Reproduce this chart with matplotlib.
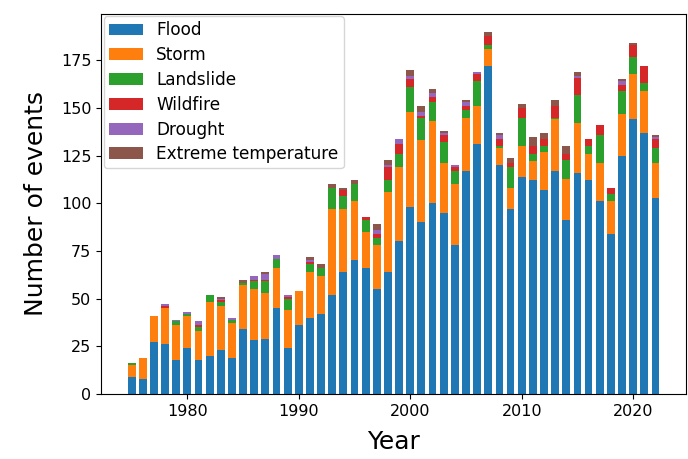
import numpy as np
import matplotlib.pyplot as plt

years = np.arange(1975, 2023)

flood = [9, 8, 27, 26, 18, 24, 18, 20, 23, 19, 34, 28, 29, 45, 24, 36,
         40, 42, 52, 64, 70, 66, 55, 64, 80, 98, 90, 100, 95, 78, 117, 131,
         172, 120, 97, 114, 112, 107, 117, 91, 116, 112, 101, 84, 125, 144, 137, 103]
storm = [6, 11, 14, 19, 18, 17, 15, 28, 23, 18, 23, 27, 24, 21, 20, 18,
         24, 20, 45, 33, 31, 19, 23, 42, 39, 50, 43, 43, 26, 32, 28, 20,
         9, 9, 11, 16, 10, 20, 27, 22, 26, 14, 20, 17, 22, 24, 22, 18]
landslide = [1, 0, 0, 0, 2, 1, 2, 4, 2, 2, 1, 4, 6, 5, 6, 0,
             4, 4, 11, 7, 9, 6, 4, 6, 7, 13, 12, 10, 11, 7, 4, 13,
             2, 1, 11, 15, 4, 3, 1, 10, 15, 4, 15, 4, 12, 9, 4, 8]
wildfire = [0, 0, 0, 1, 0, 0, 1, 0, 1, 0, 0, 1, 1, 0, 1, 0,
            1, 0, 0, 3, 0, 2, 2, 7, 5, 4, 1, 3, 4, 2, 2, 4,
            5, 4, 2, 5, 4, 4, 6, 3, 9, 4, 5, 3, 3, 6, 9, 5]
drought = [0, 0, 0, 1, 1, 1, 2, 0, 1, 1, 0, 2, 3, 2, 1, 0,
           1, 0, 0, 0, 0, 0, 2, 1, 3, 2, 2, 2, 1, 1, 2, 1,
           0, 2, 0, 0, 0, 0, 0, 0, 1, 0, 0, 0, 2, 0, 0, 1]
extreme = [0, 0, 0, 0, 0, 0, 0, 0, 1, 0, 2, 0, 1, 0, 0, 0,
           2, 2, 2, 1, 2, 0, 3, 3, 0, 3, 3, 2, 1, 0, 1, 0,
           2, 1, 3, 2, 5, 3, 3, 4, 2, 0, 0, 0, 1, 1, 0, 1]

series = [flood, storm, landslide, wildfire, drought, extreme]
names = ['Flood', 'Storm', 'Landslide', 'Wildfire', 'Drought', 'Extreme temperature']

fig = plt.figure(figsize=(6.88, 4.59), dpi=100)
ax = fig.add_axes([0.147, 0.142, 0.850, 0.828])

bottom = np.zeros(len(years))
for vals, name in zip(series, names):
    vals = np.array(vals)
    ax.bar(years, vals, width=0.7, bottom=bottom, label=name)
    bottom += vals

ax.set_xlabel('Year', fontsize=18, labelpad=8)
ax.set_ylabel('Number of events', fontsize=18, labelpad=9)
ax.tick_params(labelsize=11.5)
ax.legend(loc='upper left', fontsize=12.2, borderaxespad=0.15,
          labelspacing=0.4, borderpad=0.3)

fig.savefig('out.png')
